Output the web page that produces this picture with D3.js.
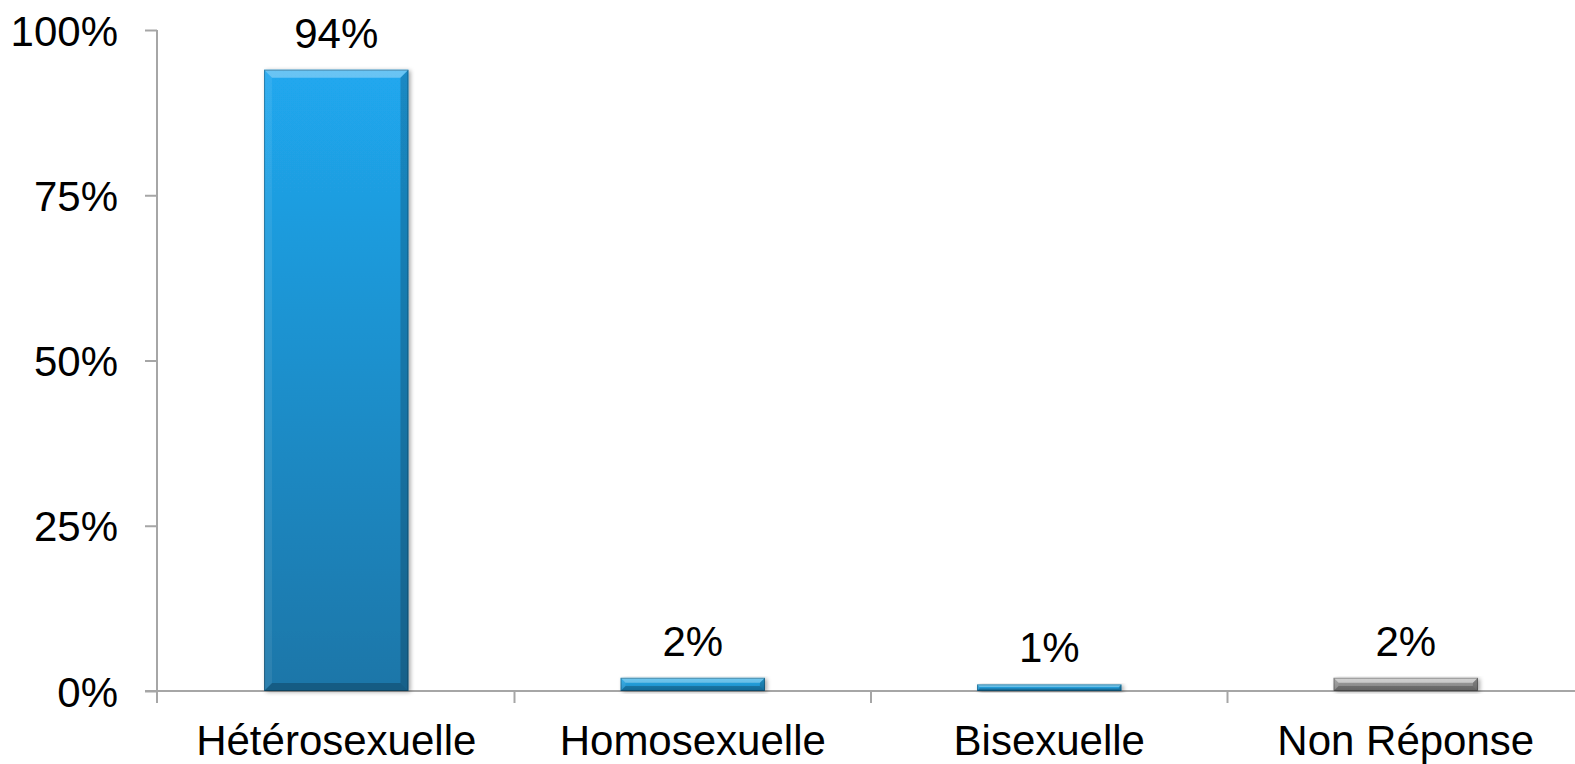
<!DOCTYPE html>
<html>
<head>
<meta charset="utf-8">
<script src="https://cdn.jsdelivr.net/npm/d3@7"></script>
<style>
  html, body { margin: 0; padding: 0; background: #ffffff; }
  svg { display: block; }
  text { font-family: "Liberation Sans", Arial, sans-serif; fill: #000; }
</style>
</head>
<body>
<svg id="chart" width="1575" height="764"></svg>
<script>
// ---- data ----
const categories = ["Hétérosexuelle", "Homosexuelle", "Bisexuelle", "Non Réponse"];
const values = [94, 2, 1, 2];
const valueLabels = ["94%", "2%", "1%", "2%"];
const yTicks = [0, 25, 50, 75, 100];
const yTickLabels = ["0%", "25%", "50%", "75%", "100%"];

// ---- styles ----
const barPalettes = [
  { top: "#20a8ef", bottom: "#1b76a8", topBevel: 0.32 },
  { top: "#2aaeea", bottom: "#1b86c0", topBevel: 0.32 },
  { top: "#2aaeea", bottom: "#1b86c0", topBevel: 0.32 },
  { top: "#a0a0a0", bottom: "#808080", topBevel: 0.5 }
];
const axisColor = "#a6a6a6";
const fontSize = 42;
const sx = 1.0;

const svg = d3.select("#chart");
const defs = svg.append("defs");

const filt = defs.append("filter").attr("id", "shadow")
  .attr("x", "-10%").attr("y", "-10%").attr("width", "130%").attr("height", "130%");
filt.append("feDropShadow").attr("dx", 2).attr("dy", 1).attr("stdDeviation", 2)
  .attr("flood-color", "#000").attr("flood-opacity", 0.35);

barPalettes.forEach((p, i) => {
  const g = defs.append("linearGradient").attr("id", "grad" + i)
    .attr("x1", 0).attr("y1", 0).attr("x2", 0).attr("y2", 1);
  g.append("stop").attr("offset", "0%").attr("stop-color", p.top);
  g.append("stop").attr("offset", "100%").attr("stop-color", p.bottom);
});

// ---- scales ----
const x = d3.scaleBand().domain(categories).range([158, 1584]).padding(0);
const y = d3.scaleLinear().domain([0, 100]).range([691, 30]);
const barFrac = 0.405;

function placeText(sel, tx, ty) {
  sel.attr("x", 0).attr("y", 0)
     .attr("transform", `translate(${tx},${ty}) scale(${sx},1)`);
}

// ---- y axis ----
const yAxis = d3.axisLeft(y)
  .tickValues(yTicks)
  .tickFormat((d, i) => yTickLabels[i])
  .tickSize(12)
  .tickSizeOuter(0)
  .tickPadding(27);

const yg = svg.append("g").attr("transform", "translate(157,0)").call(yAxis);
yg.select(".domain").remove();
yg.selectAll(".tick line").attr("stroke", axisColor).attr("stroke-width", 2);
yg.selectAll(".tick text")
  .attr("font-size", fontSize)
  .attr("font-family", "Liberation Sans, Arial, sans-serif")
  .attr("fill", "#000")
  .attr("dy", "0.36em")
  .each(function() { placeText(d3.select(this), -39, 0); });

// vertical axis line
svg.append("line")
  .attr("x1", 157).attr("x2", 157)
  .attr("y1", y(100)).attr("y2", y(0) + 12)
  .attr("stroke", axisColor).attr("stroke-width", 2);

// baseline
svg.append("line")
  .attr("x1", 145).attr("x2", x.range()[1])
  .attr("y1", y(0)).attr("y2", y(0))
  .attr("stroke", axisColor).attr("stroke-width", 2);

// category boundary ticks
svg.selectAll(".cattick").data(categories.slice(1)).enter().append("line")
  .attr("class", "cattick")
  .attr("x1", d => x(d)).attr("x2", d => x(d))
  .attr("y1", y(0)).attr("y2", y(0) + 12)
  .attr("stroke", axisColor).attr("stroke-width", 2);

// ---- bars ----
const bars = svg.selectAll(".bar").data(categories).enter().append("g").attr("class", "bar");

bars.each(function(cat, i) {
  const g = d3.select(this);
  const bw = x.bandwidth() * barFrac;
  const x0 = x(cat) + (x.bandwidth() - bw) / 2;
  const y0 = y(values[i]);
  const h = y(0) - y0;
  const b = Math.min(8, h * 0.38);

  g.append("rect")
    .attr("x", x0).attr("y", y0).attr("width", bw).attr("height", h)
    .attr("fill", `url(#grad${i})`)
    .attr("filter", "url(#shadow)");

  const poly = pts => pts.map(p => p.join(",")).join(" ");
  g.append("polygon")
    .attr("points", poly([[x0, y0], [x0 + bw, y0], [x0 + bw - b, y0 + b], [x0 + b, y0 + b]]))
    .attr("fill", "#ffffff").attr("fill-opacity", barPalettes[i].topBevel);
  g.append("polygon")
    .attr("points", poly([[x0, y0], [x0 + b, y0 + b], [x0 + b, y0 + h - b], [x0, y0 + h]]))
    .attr("fill", "#ffffff").attr("fill-opacity", 0.08);
  g.append("polygon")
    .attr("points", poly([[x0 + bw, y0], [x0 + bw - b, y0 + b], [x0 + bw - b, y0 + h - b], [x0 + bw, y0 + h]]))
    .attr("fill", "#000000").attr("fill-opacity", 0.18);
  g.append("polygon")
    .attr("points", poly([[x0, y0 + h], [x0 + b, y0 + h - b], [x0 + bw - b, y0 + h - b], [x0 + bw, y0 + h]]))
    .attr("fill", "#000000").attr("fill-opacity", 0.22);
  g.append("rect")
    .attr("x", x0 + 0.5).attr("y", y0 + 0.5).attr("width", bw - 1).attr("height", Math.max(0, h - 1))
    .attr("fill", "none").attr("stroke", "#000").attr("stroke-opacity", 0.28).attr("stroke-width", 1);

  const t = g.append("text")
    .attr("text-anchor", "middle")
    .attr("font-size", fontSize)
    .text(valueLabels[i]);
  placeText(t, x(cat) + x.bandwidth() / 2, y0 - 22);
});

// ---- category labels ----
svg.selectAll(".catlabel").data(categories).enter().append("text")
  .attr("class", "catlabel")
  .attr("text-anchor", "middle")
  .attr("font-size", fontSize)
  .text(d => d)
  .each(function(d) { placeText(d3.select(this), x(d) + x.bandwidth() / 2, 755); });
</script>
</body>
</html>
